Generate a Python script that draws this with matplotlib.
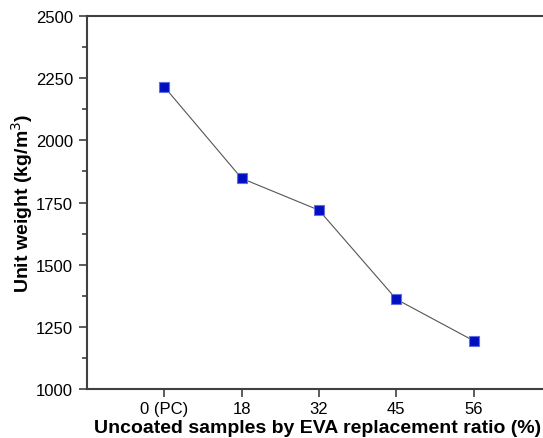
import matplotlib
matplotlib.use("Agg")
import matplotlib.pyplot as plt
from matplotlib.ticker import MultipleLocator

categories = ["0 (PC)", "18", "32", "45", "56"]
unit_weight = [2215, 1847, 1719, 1361, 1194]

plt.rcParams['font.family'] = ['Liberation Sans', 'DejaVu Sans']

fig = plt.figure(figsize=(5.43, 4.39), dpi=100)
W, H = 543, 439
left, right, top, bottom = 87, 551, 17, 390
ax = fig.add_axes([left / W, 1 - bottom / H, (right - left) / W, (bottom - top) / H])

x = list(range(len(categories)))
ax.plot(x, unit_weight, color='#555555', lw=0.8, zorder=2)
ax.plot(x, unit_weight, ls='none', marker='s', ms=7.5, mfc='#0010C0',
        mec='#6070E0', mew=0.8, zorder=3)

ax.set_xlim(-1, 5)
ax.set_ylim(1000, 2500)
ax.set_xticks(x)
ax.set_xticklabels(categories)
ax.yaxis.set_major_locator(MultipleLocator(250))
ax.yaxis.set_minor_locator(MultipleLocator(125))

for side in ['left', 'bottom', 'top']:
    ax.spines[side].set_linewidth(1.5)
    ax.spines[side].set_color('#404040')
ax.spines['right'].set_visible(False)

ax.tick_params(axis='both', which='major', direction='out', length=6, width=1.2,
               color='#404040', labelsize=12)
ax.tick_params(axis='y', which='major', pad=4)
ax.tick_params(axis='x', which='major', pad=3)
ax.tick_params(axis='y', which='minor', direction='out', length=3.5, width=1.2,
               color='#404040')
ax.tick_params(top=False, right=False)

ax.set_ylabel('Unit weight (kg/m$^3$)', fontsize=14, fontweight='bold')
ax.yaxis.set_label_coords((35 - left) / (right - left), 0.5, transform=ax.transAxes)
ax.set_xlabel('Uncoated samples by EVA replacement ratio (%)', fontsize=14,
              fontweight='bold')
ax.xaxis.set_label_coords((318 - left) / (right - left), -(429 - bottom) / (bottom - top),
                          transform=ax.transAxes)
ax.xaxis.label.set_va('center')

fig.savefig('out.png', dpi=100)
